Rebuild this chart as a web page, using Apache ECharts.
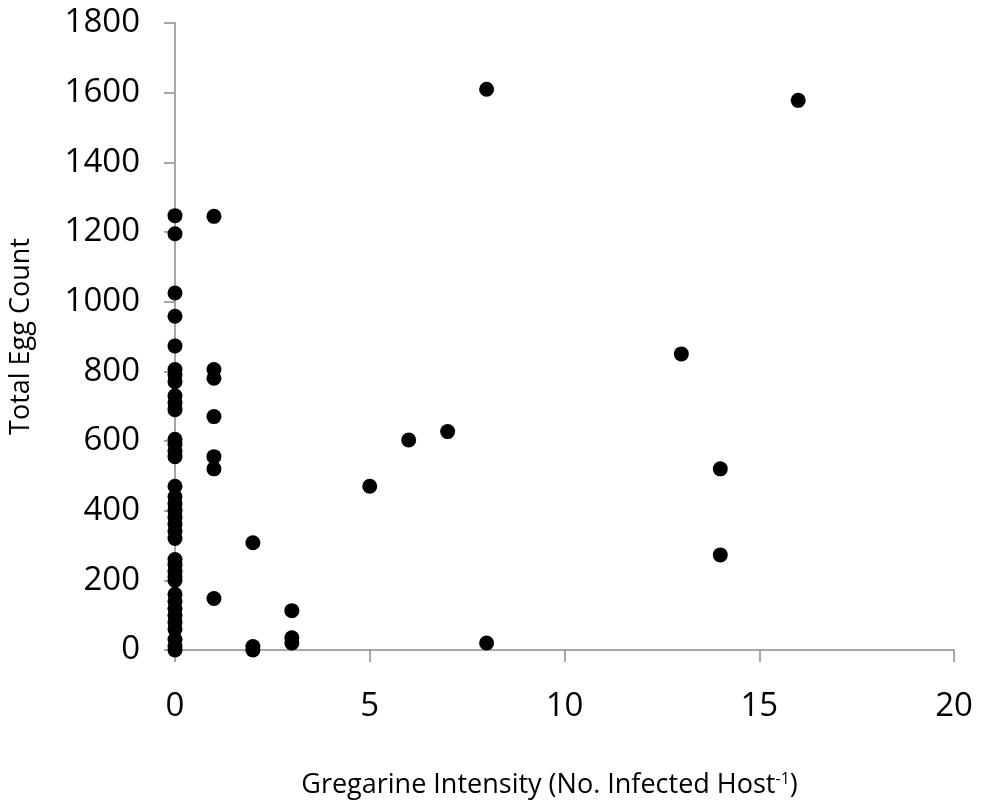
<!DOCTYPE html>
<html>
<head>
<meta charset="utf-8">
<script src="https://cdn.jsdelivr.net/npm/echarts@6/dist/echarts.min.js"></script>
<style>
html,body{margin:0;padding:0;background:#fff;}
#chart{width:981px;height:805px;}
</style>
</head>
<body>
<div id="chart"></div>
<script>
// Gregarine intensity (x) and total egg count (y), parallel arrays
var intensity = [
  0,0,0,0,0,0,0,0,0,0,0,0,0,0,0,0,0,0,0,0,0,0,0,0,0,0,0,0,0,0,0,0,0,0,0,0,0,
  1,1,1,1,1,1,1,
  2,2,2,
  3,3,3,
  5,6,7,8,8,13,14,14,16
];
var eggCount = [
  0,10,30,60,80,100,120,140,160,200,210,225,245,260,320,340,360,380,400,420,440,470,555,570,590,605,690,710,730,770,790,805,873,958,1025,1195,1247,
  148,520,555,670,780,805,1245,
  0,10,308,
  20,35,113,
  470,603,627,20,1610,850,273,520,1578
];
var xTicks = {min: 0, max: 20, interval: 5};
var yTicks = {min: 0, max: 1800, interval: 200};
var xTitle = 'Gregarine Intensity (No. Infected Host{sup|-1})';
var yTitle = 'Total Egg Count';

var points = intensity.map(function (x, i) { return [x, eggCount[i]]; });

var chart = echarts.init(document.getElementById('chart'), null, {renderer: 'canvas'});
var FONT = '"Open Sans", sans-serif';
var axisGray = '#8a8a8a';
chart.setOption({
  animation: false,
  backgroundColor: '#ffffff',
  grid: {left: 174, right: 27, top: 23, bottom: 155, containLabel: false},
  xAxis: {
    type: 'value',
    min: xTicks.min, max: xTicks.max, interval: xTicks.interval,
    splitLine: {show: false},
    axisLine: {show: true, onZero: false, lineStyle: {color: axisGray, width: 1.5}},
    axisTick: {show: true, inside: false, length: 12, lineStyle: {color: axisGray, width: 1.5}},
    axisLabel: {color: '#000', fontFamily: FONT, fontSize: 33, margin: 40,
      formatter: function (v) { return String(v); }},
    name: xTitle,
    nameLocation: 'middle',
    nameGap: 121,
    nameTextStyle: {
      color: '#000', fontFamily: FONT, fontSize: 27, padding: [0, 30, 0, 0],
      rich: {sup: {fontSize: 16, fontFamily: FONT, color: '#000', verticalAlign: 'top', padding: [0, 0, 12, 0]}}
    }
  },
  yAxis: {
    type: 'value',
    min: yTicks.min, max: yTicks.max, interval: yTicks.interval,
    splitLine: {show: false},
    axisLine: {show: true, onZero: false, lineStyle: {color: axisGray, width: 1.5}},
    axisTick: {show: true, inside: false, length: 11, lineStyle: {color: axisGray, width: 1.5}},
    axisLabel: {color: '#000', fontFamily: FONT, fontSize: 33, margin: 35,
      formatter: function (v) { return String(v); }},
    name: yTitle,
    nameLocation: 'middle',
    nameRotate: 90,
    nameGap: 140,
    nameTextStyle: {color: '#000', fontFamily: FONT, fontSize: 27}
  },
  series: [{
    type: 'scatter',
    data: points,
    symbol: 'circle',
    symbolSize: 15,
    itemStyle: {color: '#000000', opacity: 1},
    emphasis: {disabled: true}
  }]
});
</script>
</body>
</html>
